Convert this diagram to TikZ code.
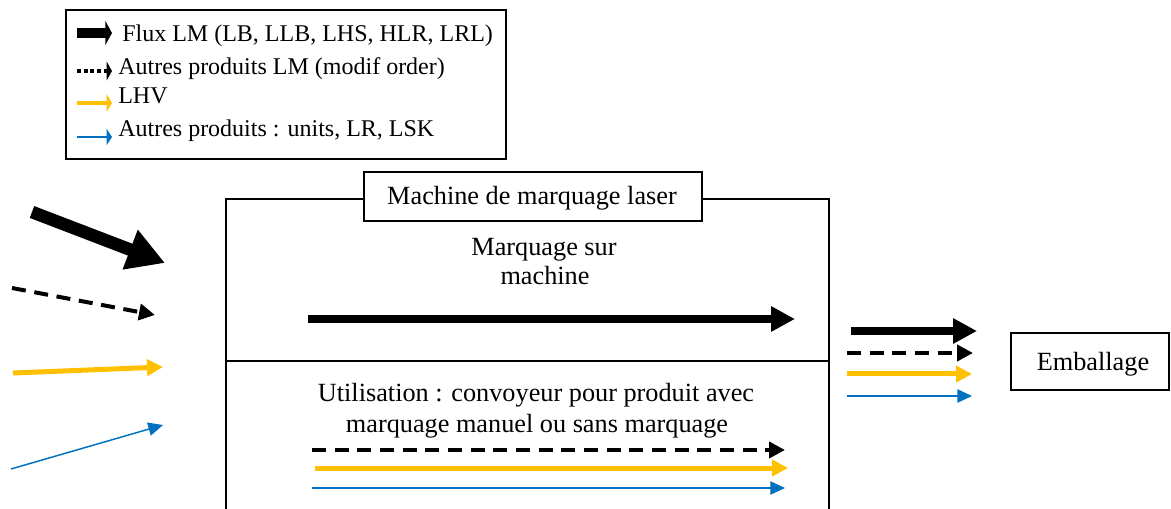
\documentclass[tikz,border=0pt]{standalone}
\usepackage{fontspec}
\setmainfont{Liberation Serif}
\usetikzlibrary{arrows.meta}
\definecolor{yel}{HTML}{FFC000}
\definecolor{blu}{HTML}{0070C0}
\begin{document}
\begin{tikzpicture}[x=0.75pt,y=-0.75pt,
  font=\fontsize{19.7}{23}\selectfont,
  frame/.style={draw=black,line width=1.8pt},
  bigarr/.style={line width=9.5pt,-{Triangle[length=28pt,width=30pt]}},
  thickarr/.style={line width=6pt,-{Triangle[length=18pt,width=18pt]}},
  dasharr/.style={line width=3pt,dash pattern=on 10.5pt off 6.5pt,-{Triangle[length=12pt,width=12pt]}},
  yelarr/.style={draw=yel,line width=3.75pt,-{Triangle[length=12pt,width=12pt,fill=yel]}},
  bluarr/.style={draw=blu,line width=1.1pt,-{Triangle[length=11pt,width=10pt,fill=blu]}},
  lgthick/.style={line width=8pt,-{Triangle[length=5pt,width=18pt]}},
  lgdot/.style={line width=3pt,dash pattern=on 3pt off 2pt,-{Triangle[length=4pt,width=14pt]}},
  lgyel/.style={draw=yel,line width=3pt,-{Triangle[length=4pt,width=13pt,fill=yel]}},
  lgblu/.style={draw=blu,line width=1.1pt,-{Triangle[length=4pt,width=12pt,fill=blu]}},
  lgtext/.style={anchor=base west,inner sep=0pt,font=\fontsize{18}{22}\selectfont},
  ctext/.style={anchor=base,inner sep=0pt}
]
\useasboundingbox (0,0) rectangle (1171,509);

% legend
\draw[frame,line width=2pt] (66,10) rectangle (506,159);
\coordinate (l1a) at (77,33);  \coordinate (l1b) at (112,33);
\coordinate (l2a) at (77,71);  \coordinate (l2b) at (112,71);
\coordinate (l3a) at (77,103); \coordinate (l3b) at (112,103);
\coordinate (l4a) at (77,137); \coordinate (l4b) at (112,137);
\draw[lgthick] (l1a) -- (l1b);
\draw[lgdot] (l2a) -- (l2b);
\draw[lgyel] (l3a) -- (l3b);
\draw[lgblu] (l4a) -- (l4b);
\node[lgtext] (t1) at (122,42) {Flux LM (LB, LLB, LHS, HLR, LRL)};
\node[lgtext] (t2) at (118,75) {Autres produits LM (modif order)};
\node[lgtext] (t3) at (118,104) {LHV};
\node[lgtext] (t4) at (118,137) {Autres produits : units, LR, LSK};

% main box
\draw[frame] (226,520) -- (226,199) -- (829,199) -- (829,520);
\draw[frame] (226,361) -- (829,361);
\node[frame,fill=white,minimum width=338pt*0.75,minimum height=49pt*0.75,inner sep=0pt] (title) at (533,196.5) {};
\node[ctext] (titletxt) at (532,205) {Machine de marquage laser};

\node[ctext] (m1) at (544,256) {Marquage sur};
\node[ctext] (m2) at (545,285) {machine};
\coordinate (ma) at (308,319); \coordinate (mb) at (795,319);
\draw[thickarr] (ma) -- (mb);

\node[ctext] (u1) at (536,402) {Utilisation : convoyeur pour produit avec};
\node[ctext] (u2) at (537,432) {marquage manuel ou sans marquage};
\coordinate (da) at (312,450); \coordinate (db) at (785,450);
\coordinate (ya) at (315,468); \coordinate (yb) at (788,468);
\coordinate (ba) at (312,488); \coordinate (bb) at (785,488);
\draw[dasharr] (da) -- (db);
\draw[yelarr] (ya) -- (yb);
\draw[bluarr] (ba) -- (bb);

% incoming arrows
\coordinate (i1a) at (32,212);  \coordinate (i1b) at (165,263);
\coordinate (i2a) at (12,288);  \coordinate (i2b) at (155,315);
\coordinate (i3a) at (13,373);  \coordinate (i3b) at (163,367);
\coordinate (i4a) at (11,469);  \coordinate (i4b) at (163,425);
\draw[bigarr] (i1a) -- (i1b);
\draw[dasharr] (i2a) -- (i2b);
\draw[yelarr] (i3a) -- (i3b);
\draw[bluarr] (i4a) -- (i4b);

% outgoing arrows
\coordinate (o1a) at (851,331); \coordinate (o1b) at (977,331);
\coordinate (o2a) at (847,353); \coordinate (o2b) at (973,353);
\coordinate (o3a) at (847,374); \coordinate (o3b) at (972,374);
\coordinate (o4a) at (847,396); \coordinate (o4b) at (972,396);
\draw[thickarr] (o1a) -- (o1b);
\draw[dasharr] (o2a) -- (o2b);
\draw[yelarr] (o3a) -- (o3b);
\draw[bluarr] (o4a) -- (o4b);

% Emballage
\node[frame,minimum width=158pt*0.75,minimum height=57pt*0.75,inner sep=0pt] (emb) at (1090,361.5) {};
\node[ctext] (embtxt) at (1093,371) {Emballage};
\end{tikzpicture}
\end{document}
